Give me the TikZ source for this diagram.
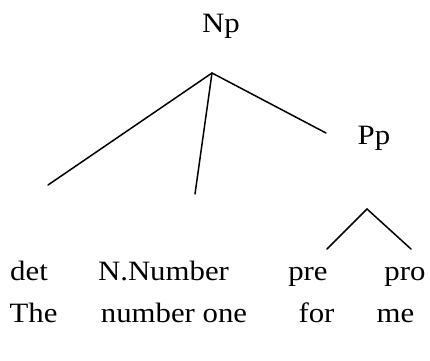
\documentclass[tikz,border=0pt]{standalone}
\usepackage{fontspec}
\setmainfont{Liberation Serif}[FakeStretch=1.1]
\begin{document}
\begin{tikzpicture}[x=1pt,y=1pt,
  lbl/.style={anchor=base,inner sep=0pt,font=\fontsize{28}{32}\selectfont},
  edge/.style={line width=1.5pt,line cap=round}]
\useasboundingbox (0,0) rectangle (430,-360);
\node[lbl] (np) at (221,-32) {Np};
\node[lbl] (pp) at (374,-144) {Pp};
\node[lbl] (det) at (29,-280) {det};
\node[lbl] (nnum) at (163.5,-280) {N.Number};
\node[lbl] (pre) at (308,-280) {pre};
\node[lbl] (pro) at (405,-280) {pro};
\node[lbl] (the) at (33.5,-322) {The};
\node[lbl] (numone) at (174,-322) {number one};
\node[lbl] (for) at (316.5,-322) {for};
\node[lbl] (me) at (395.5,-322) {me};
\coordinate (apex) at (212,-73);
\coordinate (e1) at (48,-185);
\coordinate (e2) at (195,-194);
\coordinate (e3) at (326,-133);
\coordinate (apex2) at (367,-209);
\coordinate (f1) at (327,-249);
\coordinate (f2) at (411,-249);
\draw[edge] (e1) -- (apex) -- (e3);
\draw[edge] (apex) -- (e2);
\draw[edge] (f1) -- (apex2) -- (f2);
\end{tikzpicture}
\end{document}
